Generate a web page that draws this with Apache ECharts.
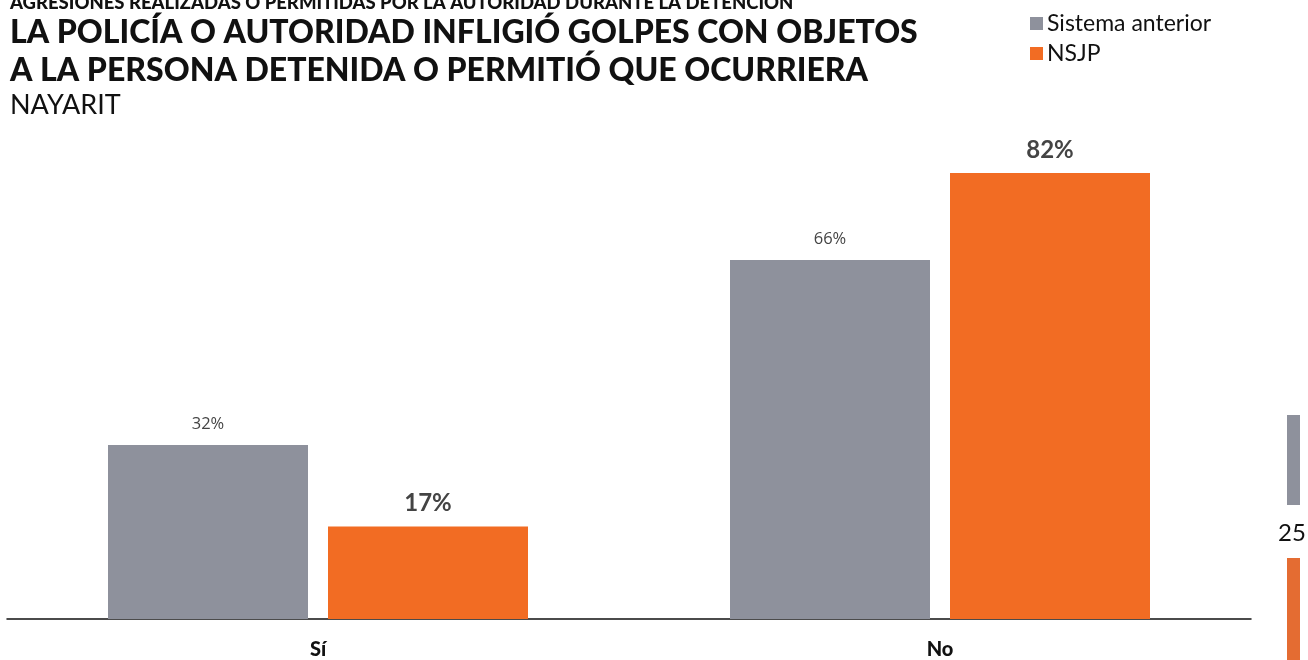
<!DOCTYPE html>
<html><head><meta charset="utf-8">
<script src="https://cdn.jsdelivr.net/npm/echarts@6/dist/echarts.min.js"></script>
<style>html,body{margin:0;padding:0;background:#fff}#c{width:1308px;height:660px}</style>
</head><body><div id="c"></div>
<script>
const categories = ['Sí', 'No'];
const seriesNames = ['Sistema anterior', 'NSJP'];
const sistemaAnterior = [32, 66];
const nsjp = [17, 82];

const chart = echarts.init(document.getElementById('c'), null, {renderer: 'canvas'});
chart.setOption({
  animation: false,
  backgroundColor: '#ffffff',
  color: ['#8E919C', '#F26C23'],
  title: [
    {text: 'AGRESIONES REALIZADAS O PERMITIDAS POR LA AUTORIDAD DURANTE LA DETENCIÓN', left: 10, top: -6, padding: 0,
     textStyle: {fontFamily: 'Lato', fontWeight: 900, fontSize: 18.5, color: '#111'}},
    {text: 'LA POLICÍA O AUTORIDAD INFLIGIÓ GOLPES CON OBJETOS\nA LA PERSONA DETENIDA O PERMITIÓ QUE OCURRIERA', left: 10, top: 14, padding: 0,
     textStyle: {fontFamily: 'Lato', fontWeight: 900, fontSize: 32, lineHeight: 38, color: '#111'}},
    {text: 'NAYARIT', left: 10, top: 92, padding: 0,
     textStyle: {fontFamily: 'Lato', fontWeight: 'normal', fontSize: 27, color: '#111'}}
  ],
  legend: {
    data: seriesNames, orient: 'vertical', left: 1030, top: 12, padding: 0, itemWidth: 13, itemHeight: 13, itemGap: 7,
    icon: 'rect', textStyle: {fontFamily: 'Lato', fontSize: 23, color: '#111', padding: [0, 0, 0, -1]}
  },
  grid: {left: 7, right: 57, top: 75, bottom: 38, containLabel: false},
  xAxis: {
    type: 'category', data: categories,
    axisLine: {lineStyle: {color: '#111', width: 1.5}}, axisTick: {show: false},
    axisLabel: {fontFamily: 'Lato', fontWeight: 900, fontSize: 20, color: '#111', margin: 21}
  },
  yAxis: {type: 'value', min: 0, max: 100, show: false, splitLine: {show: false}},
  series: [
    {name: seriesNames[0], type: 'bar', data: sistemaAnterior, barWidth: 200, barGap: '10%',
     label: {show: true, position: 'top', distance: 12, formatter: '{c}%', fontFamily: 'Open Sans',
       fontSize: 16.5, color: '#444', fontWeight: 'normal'}},
    {name: seriesNames[1], type: 'bar', data: nsjp, barWidth: 200,
     label: {show: true, position: 'top', distance: 11, formatter: '{c}%', fontFamily: 'Lato',
       fontSize: 24, color: '#444', fontWeight: 'bold'}}
  ],
  graphic: [
    {type: 'rect', shape: {x: 1287, y: 415, width: 13, height: 90}, style: {fill: '#8E919C'}},
    {type: 'text', x: 1292, y: 533, style: {text: '25', fontFamily: 'Lato', fontSize: 24, fill: '#111', textAlign: 'center', textVerticalAlign: 'middle'}},
    {type: 'rect', shape: {x: 1287, y: 558, width: 13, height: 102}, style: {fill: '#E46C32'}}
  ]
});
</script></body></html>
